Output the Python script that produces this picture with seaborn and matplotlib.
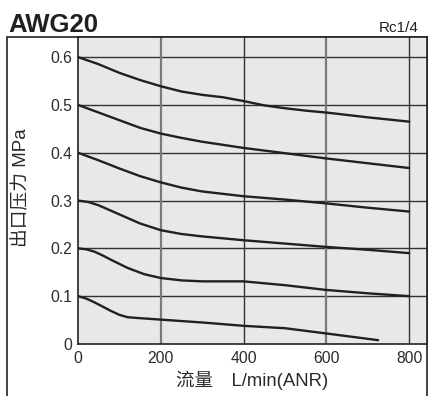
import pandas as pd
import matplotlib.pyplot as plt
import seaborn as sns
from matplotlib.patches import Rectangle

# curves, one per set pressure (MPa)
flow_06 = [0, 50, 100, 150, 200, 250, 300, 350, 400, 450, 500, 550, 600, 700, 800]
pres_06 = [0.6, 0.585, 0.567, 0.552, 0.539, 0.528, 0.521, 0.516, 0.508, 0.499, 0.493, 0.488, 0.484, 0.474, 0.465]

flow_05 = [0, 50, 100, 150, 200, 250, 300, 400, 500, 600, 700, 800]
pres_05 = [0.5, 0.484, 0.468, 0.452, 0.44, 0.431, 0.423, 0.41, 0.399, 0.388, 0.378, 0.368]

flow_04 = [0, 50, 100, 150, 200, 250, 300, 400, 500, 600, 700, 800]
pres_04 = [0.4, 0.384, 0.367, 0.351, 0.338, 0.327, 0.319, 0.309, 0.302, 0.294, 0.285, 0.277]

flow_03 = [0, 25, 50, 100, 150, 200, 250, 300, 400, 500, 600, 700, 800]
pres_03 = [0.3, 0.297, 0.29, 0.271, 0.252, 0.238, 0.23, 0.225, 0.217, 0.21, 0.203, 0.197, 0.19]

flow_02 = [0, 20, 40, 60, 80, 120, 160, 200, 250, 300, 350, 400, 450, 500, 600, 700, 800]
pres_02 = [0.2, 0.198, 0.193, 0.185, 0.176, 0.159, 0.146, 0.138, 0.133, 0.131, 0.131, 0.131, 0.127, 0.123, 0.113, 0.106, 0.1]

flow_01 = [0, 20, 40, 60, 80, 100, 120, 150, 200, 300, 400, 500, 600, 725]
pres_01 = [0.1, 0.095, 0.087, 0.078, 0.069, 0.061, 0.056, 0.054, 0.051, 0.045, 0.038, 0.033, 0.022, 0.008]

x_ticks = [0, 200, 400, 600, 800]
y_ticks = [0, 0.1, 0.2, 0.3, 0.4, 0.5, 0.6]

curves = {0.6: (flow_06, pres_06), 0.5: (flow_05, pres_05), 0.4: (flow_04, pres_04),
          0.3: (flow_03, pres_03), 0.2: (flow_02, pres_02), 0.1: (flow_01, pres_01)}

rows = []
for setp, (fl, pr) in curves.items():
    for f, p in zip(fl, pr):
        rows.append({'set': str(setp), 'flow': f, 'pressure': p})
df = pd.DataFrame(rows)

sns.set_style('white')
plt.rcParams['font.family'] = ['Liberation Sans', 'Noto Sans CJK SC', 'DejaVu Sans']

fig = plt.figure(figsize=(4.28, 3.96), dpi=100)
ax = fig.add_axes([78 / 428, 52 / 396, 349 / 428, 307 / 396])
ax.set_facecolor('#e8e8e8')

# outer frame
fig.add_artist(Rectangle((7 / 428, -0.05), 420 / 428, 0.05 + 359 / 396, transform=fig.transFigure,
                         fill=False, edgecolor='#222222', linewidth=1.2, zorder=0))

# grid
for y in y_ticks[1:]:
    ax.axhline(y, color='#333333', linewidth=1.0, zorder=1)
for x in x_ticks[1:]:
    if x in (200, 600):
        ax.axvline(x, color='#7a7a7a', linewidth=1.6, zorder=1)
    else:
        ax.axvline(x, color='#333333', linewidth=1.0, zorder=1)

sns.lineplot(data=df, x='flow', y='pressure', hue='set', units='set', estimator=None,
             palette=['#231f20'] * 6, linewidth=1.7, legend=False, ax=ax, zorder=3)

ax.set_xlim(0, 843)
ax.set_ylim(0, 0.642)
ax.set_xticks(x_ticks)
ax.set_yticks(y_ticks)
ax.set_yticklabels(['0', '0.1', '0.2', '0.3', '0.4', '0.5', '0.6'])
ax.tick_params(length=0, labelsize=11.3, colors='#2a2a2a', pad=4)
ax.tick_params(axis='x', pad=5)
ax.set_xlabel('')
ax.set_ylabel('')
for s in ax.spines.values():
    s.set_color('#222222')
    s.set_linewidth(1.2)

fig.text(8 / 428, 1 - 32 / 396, 'AWG20', fontsize=18.5, fontweight='bold', color='#231f20',
         ha='left', va='baseline')
fig.text(419 / 428, 1 - 32 / 396, 'Rc1/4', fontsize=11, color='#231f20', ha='right', va='baseline')
fig.text(21 / 428, 1 - 188 / 396, '出口压力 MPa', fontsize=13.5, color='#2a2a2a', rotation=90,
         ha='center', va='center')
fig.text(252 / 428, 1 - 380 / 396, '流量\u3000L/min(ANR)', fontsize=13.3, color='#2a2a2a',
         ha='center', va='center')

fig.savefig('out.png', dpi=100)
